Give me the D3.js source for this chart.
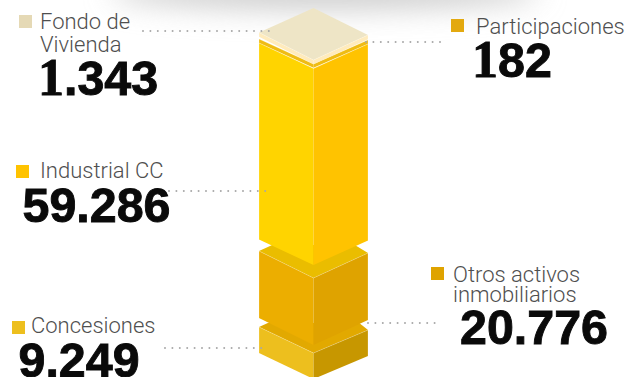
<!DOCTYPE html>
<html lang="es">
<head>
<meta charset="utf-8">
<style>
  html, body { margin: 0; padding: 0; background: #fff; }
  svg { display: block; }
</style>
<script src="https://cdn.jsdelivr.net/npm/d3@7"></script>
</head>
<body>
<svg id="chart" width="641" height="377"></svg>
<script>
// Stack order, top to bottom
const categories = ["Fondo de Vivienda", "Participaciones", "Industrial CC", "Otros activos inmobiliarios", "Concesiones"];
const values = [1343, 182, 59286, 20776, 9249];
const valueLabels = ["1.343", "182", "59.286", "20.776", "9.249"];

// Slab thickness is compressed for the small items so they remain visible
const sortedValues = values.slice().sort(d3.ascending);
const height = d3.scaleLinear()
  .domain([0].concat(sortedValues))
  .range([0, 3.8, 4.2, 26, 67, 196.5]);

const svg = d3.select("#chart");
const defs = svg.append("defs");

// Soft shadow behind the top of the stack
const blur = defs.append("filter").attr("id", "soft")
  .attr("x", "-30%").attr("y", "-200%").attr("width", "160%").attr("height", "500%");
blur.append("feGaussianBlur").attr("stdDeviation", 14);
svg.append("ellipse")
  .attr("cx", 325).attr("cy", -8).attr("rx", 215).attr("ry", 18)
  .attr("fill", "#cfcfcf").attr("filter", "url(#soft)");

// Isometric projection shared by all slabs
const cx = 313.5, halfW = 54.5;

const slabs = [
  { i: 4, leftY: 327, rise: 26, skew: 3, fill: { top: "#E2A900", left: "#EDBF1E", right: "#C79700" }, notch: 4 },
  { i: 3, leftY: 251, rise: 27, skew: 2, fill: { top: "#EABD00", left: "#ECAE00", right: "#DFA300" }, notch: 6 },
  { i: 2, leftY: 43,  rise: 25.5, skew: 1, fill: { top: "#EFBE00", left: "#FFD400", right: "#FFC300" }, notch: 0 },
  { i: 1, leftY: 39,  rise: 25, skew: 1, fill: { top: "#EDBB16", left: "#EFBC14", right: "#EFBC14" }, notch: 0 },
  { i: 0, leftY: 32.5, rise: 27.5, skew: 2.5, fill: { top: "#EEE5C6", left: "#FFEBBC", right: "#FFEBBC" }, notch: 0, full: true }
];

const line = d3.line();
const stack = svg.append("g");
slabs.forEach(f => {
  const h = height(values[f.i]);
  const y = f.leftY, g = stack.append("g");
  const L = cx - halfW, R = cx + halfW;
  const front = y + f.rise;
  // The upper face is cut back where the slab above overhangs it
  const topPts = f.full
    ? [[L, y], [cx, y - 24.5], [R, y + f.skew], [cx, front]]
    : [[L, y], [L + f.notch * 2.2, y - f.notch], [R - f.notch * 2.2, y - f.notch], [R, y + f.skew], [cx, front]];
  if (f.full || f.notch) {
    g.append("path").attr("d", line(topPts) + "Z").attr("fill", f.fill.top);
  }
  g.append("path")
    .attr("d", line([[L, y], [cx, front], [cx, front + h], [L, y + h]]) + "Z")
    .attr("fill", f.fill.left);
  g.append("path")
    .attr("d", line([[R, y + f.skew], [cx, front], [cx, front + h], [R, y + f.skew + h]]) + "Z")
    .attr("fill", f.fill.right);
  // Thin highlight along the upper edges
  g.append("path")
    .attr("d", line([[L, y + h], [L, y], [cx, front], [R, y + f.skew], [R, y + f.skew + h]]))
    .attr("fill", "none").attr("stroke", "#fff").attr("stroke-opacity", 0.28).attr("stroke-width", 0.8);
});

// Legend swatches
const swatches = [
  { i: 0, x: 19, y: 15, fill: "#E5D9B5" },
  { i: 1, x: 451, y: 19, fill: "#E3A90F" },
  { i: 2, x: 16, y: 165, fill: "#FFC300" },
  { i: 3, x: 431, y: 267, fill: "#DFA300" },
  { i: 4, x: 12, y: 321, fill: "#EDBF1E" }
];
svg.append("g").selectAll("rect").data(swatches).join("rect")
  .attr("x", d => d.x).attr("y", d => d.y)
  .attr("width", 13).attr("height", 13)
  .attr("fill", d => d.fill);

// Category names, wrapped where needed
const nameRows = [
  { x: 40, y: 28.5, t: "Fondo de" },
  { x: 40, y: 52, t: "Vivienda" },
  { x: 476, y: 34, t: "Participaciones" },
  { x: 40, y: 178, t: "Industrial CC" },
  { x: 453, y: 282, t: "Otros activos" },
  { x: 453, y: 302, t: "inmobiliarios" },
  { x: 31, y: 333, t: "Concesiones" }
];
svg.append("g").selectAll("text").data(nameRows).join("text")
  .attr("x", d => d.x).attr("y", d => d.y).text(d => d.t)
  .attr("font-family", "Roboto").attr("font-weight", 300)
  .attr("font-size", 22).attr("fill", "#4f4f4f");

// Headline figures; a leading numeral one is set in a face with a foot serif
const numberRows = [
  { i: 0, x: 38, y: 95 },
  { i: 1, x: 472, y: 77 },
  { i: 2, x: 22.5, y: 222 },
  { i: 3, x: 460, y: 344 },
  { i: 4, x: 18.5, y: 377 }
];
svg.append("g").selectAll("text").data(numberRows).join("text")
  .attr("x", d => d.x).attr("y", d => d.y)
  .attr("font-family", "Liberation Sans").attr("font-weight", 700)
  .attr("font-size", 48.4).attr("fill", "#0a0a0a")
  .attr("stroke", "#0a0a0a").attr("stroke-width", 0.9)
  .selectAll("tspan")
  .data(d => {
    const s = valueLabels[d.i];
    return s[0] === "1" ? [s[0], s.slice(1)] : [s];
  })
  .join("tspan")
  .attr("font-family", r => r === "1" ? "Liberation Serif" : null)
  .attr("font-size", r => r === "1" ? 52 : null)
  .text(r => r);

// Dotted leaders from the labels to the stack
const leaders = [
  { x1: 143, x2: 273, y: 31 },
  { x1: 366, x2: 444, y: 42 },
  { x1: 169, x2: 270, y: 191 },
  { x1: 368, x2: 438, y: 323 },
  { x1: 165, x2: 264, y: 348 }
];
svg.append("g").selectAll("line").data(leaders).join("line")
  .attr("x1", d => d.x1).attr("x2", d => d.x2)
  .attr("y1", d => d.y).attr("y2", d => d.y)
  .attr("stroke", "#a8a8a8").attr("stroke-width", 2)
  .attr("stroke-linecap", "round")
  .attr("stroke-dasharray", "0 7.4");
</script>
</body>
</html>
